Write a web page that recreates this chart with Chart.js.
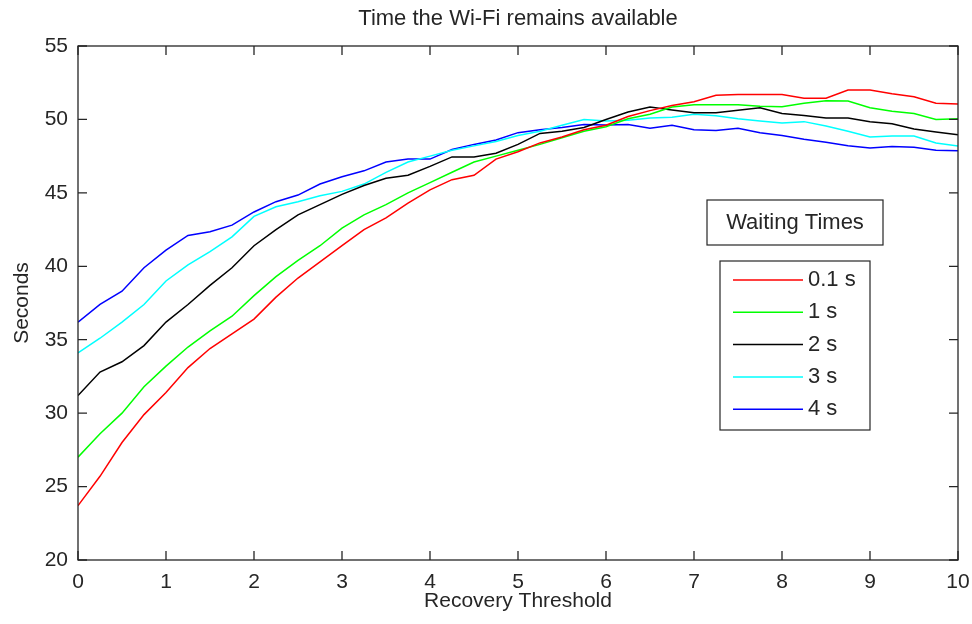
<!DOCTYPE html>
<html>
<head>
<meta charset="utf-8">
<title>Time the Wi-Fi remains available</title>
<script src="https://cdn.jsdelivr.net/npm/chart.js@4.4.1/dist/chart.umd.min.js"></script>
<style>
  html, body { margin: 0; padding: 0; background: #fff; }
  #wrap { width: 972px; height: 624px; }
</style>
</head>
<body>
<div id="wrap"><canvas id="chart"></canvas></div>
<script>
// Recovery threshold (x) and the seconds the Wi-Fi stays up, one array per waiting time
const thresholds = [0, 0.25, 0.5, 0.75, 1, 1.25, 1.5, 1.75, 2, 2.25, 2.5, 2.75, 3, 3.25, 3.5, 3.75,
                    4, 4.25, 4.5, 4.75, 5, 5.25, 5.5, 5.75, 6, 6.25, 6.5, 6.75, 7, 7.25, 7.5, 7.75,
                    8, 8.25, 8.5, 8.75, 9, 9.25, 9.5, 9.75, 10];

const wait01 = [23.7, 25.7, 28.0, 29.9, 31.4, 33.1, 34.4, 35.4, 36.4, 37.9, 39.2, 40.3, 41.4, 42.5, 43.3, 44.3,
                45.2, 45.9, 46.2, 47.3, 47.8, 48.4, 48.8, 49.3, 49.6, 50.2, 50.6, 50.95, 51.2, 51.65, 51.7, 51.7,
                51.7, 51.45, 51.45, 52.0, 52.0, 51.75, 51.55, 51.1, 51.05];
const wait1  = [27.0, 28.6, 30.0, 31.8, 33.2, 34.5, 35.6, 36.6, 38.0, 39.3, 40.4, 41.4, 42.6, 43.5, 44.2, 45.0,
                45.7, 46.4, 47.1, 47.5, 47.9, 48.3, 48.75, 49.2, 49.5, 50.05, 50.35, 50.85, 51.0, 51.0, 51.0, 50.9,
                50.87, 51.1, 51.28, 51.25, 50.8, 50.55, 50.4, 50.0, 50.05];
const wait2  = [31.2, 32.8, 33.5, 34.6, 36.2, 37.4, 38.7, 39.9, 41.4, 42.5, 43.5, 44.2, 44.9, 45.5, 46.0, 46.2,
                46.8, 47.45, 47.45, 47.7, 48.3, 49.05, 49.2, 49.45, 50.0, 50.5, 50.85, 50.65, 50.45, 50.45, 50.62, 50.8,
                50.4, 50.27, 50.1, 50.1, 49.85, 49.7, 49.35, 49.15, 48.95];
const wait3  = [34.1, 35.1, 36.2, 37.4, 39.0, 40.1, 41.0, 42.0, 43.4, 44.05, 44.4, 44.8, 45.1, 45.6, 46.4, 47.1,
                47.5, 47.9, 48.2, 48.5, 48.9, 49.2, 49.6, 50.0, 49.9, 49.95, 50.1, 50.15, 50.35, 50.25, 50.05, 49.9,
                49.75, 49.85, 49.55, 49.2, 48.8, 48.87, 48.87, 48.4, 48.19];
const wait4  = [36.2, 37.4, 38.3, 39.9, 41.1, 42.1, 42.35, 42.8, 43.7, 44.4, 44.85, 45.6, 46.1, 46.5, 47.1, 47.3,
                47.3, 47.95, 48.3, 48.6, 49.1, 49.3, 49.45, 49.65, 49.62, 49.65, 49.4, 49.6, 49.3, 49.24, 49.4, 49.1,
                48.9, 48.65, 48.45, 48.2, 48.05, 48.15, 48.1, 47.9, 47.87];

const seriesLabels = ['0.1 s', '1 s', '2 s', '3 s', '4 s'];
const seriesColors = ['#ff0000', '#00ff00', '#000000', '#00ffff', '#0000ff'];
const seriesValues = [wait01, wait1, wait2, wait3, wait4];

const xTicks = [0, 1, 2, 3, 4, 5, 6, 7, 8, 9, 10];
const yTicks = [20, 25, 30, 35, 40, 45, 50, 55];
const chartTitle = 'Time the Wi-Fi remains available';
const legendTitle = 'Waiting Times';

const FAMILY = '"Liberation Sans", Arial, sans-serif';
const FONT = { family: FAMILY, size: 21 };
const INK = '#262626';

// Title over the plot, box round it, inward ticks on all four sides, and the two legend boxes
const matlabAxes = {
  id: 'matlabAxes',
  afterDatasetsDraw(chart) {
    const { ctx, chartArea: a, scales: { x, y } } = chart;
    const tick = 9;
    ctx.save();

    ctx.fillStyle = INK;
    ctx.font = '22px ' + FAMILY;
    ctx.textAlign = 'center';
    ctx.textBaseline = 'middle';
    ctx.fillText(chartTitle, (a.left + a.right) / 2, 19);

    ctx.strokeStyle = INK;
    ctx.lineWidth = 1.3;
    ctx.strokeRect(a.left, a.top, a.right - a.left, a.bottom - a.top);

    ctx.beginPath();
    xTicks.forEach(v => {
      const px = x.getPixelForValue(v);
      ctx.moveTo(px, a.bottom); ctx.lineTo(px, a.bottom - tick);
      ctx.moveTo(px, a.top);    ctx.lineTo(px, a.top + tick);
    });
    yTicks.forEach(v => {
      const py = y.getPixelForValue(v);
      ctx.moveTo(a.left, py);  ctx.lineTo(a.left + tick, py);
      ctx.moveTo(a.right, py); ctx.lineTo(a.right - tick, py);
    });
    ctx.stroke();

    // legend heading box
    ctx.fillStyle = '#fff';
    ctx.lineWidth = 1.2;
    ctx.fillRect(707, 200, 176, 45);
    ctx.strokeRect(707, 200, 176, 45);
    ctx.fillStyle = INK;
    ctx.fillText(legendTitle, 795, 223);

    // legend entries box
    ctx.fillStyle = '#fff';
    ctx.fillRect(720, 261, 150, 169);
    ctx.strokeRect(720, 261, 150, 169);
    ctx.textAlign = 'left';
    chart.data.datasets.forEach((ds, i) => {
      const ly = 280 + i * 32.3;
      ctx.strokeStyle = ds.borderColor;
      ctx.lineWidth = 1.5;
      ctx.beginPath();
      ctx.moveTo(733, ly); ctx.lineTo(803, ly);
      ctx.stroke();
      ctx.fillStyle = INK;
      ctx.fillText(ds.label, 808, ly);
    });
    ctx.restore();
  }
};

new Chart(document.getElementById('chart'), {
  type: 'line',
  data: {
    datasets: seriesValues.map((vals, i) => ({
      label: seriesLabels[i],
      data: thresholds.map((t, j) => ({ x: t, y: vals[j] })),
      borderColor: seriesColors[i],
      backgroundColor: seriesColors[i],
      borderWidth: 1.5,
      pointRadius: 0,
      tension: 0,
      fill: false
    }))
  },
  options: {
    responsive: true,
    maintainAspectRatio: false,
    animation: false,
    layout: { padding: { top: 46, right: 14, bottom: 0, left: 0 } },
    plugins: {
      legend: { display: false },
      tooltip: { enabled: false },
      title: { display: false }
    },
    scales: {
      x: {
        type: 'linear',
        min: 0,
        max: 10,
        afterFit: s => { s.height = 64; s.paddingLeft = 0; s.paddingRight = 0; },
        afterBuildTicks: s => { s.ticks = xTicks.map(v => ({ value: v })); },
        grid: { display: false, drawTicks: false },
        border: { display: false },
        ticks: { color: INK, font: FONT, padding: 10, maxRotation: 0 },
        title: { display: true, text: 'Recovery Threshold', color: INK, font: FONT, padding: { top: 0, bottom: 10 } }
      },
      y: {
        min: 20,
        max: 55,
        afterFit: s => { s.width = 78; s.paddingTop = 0; s.paddingBottom = 0; },
        afterBuildTicks: s => { s.ticks = yTicks.map(v => ({ value: v })); },
        grid: { display: false, drawTicks: false },
        border: { display: false },
        ticks: { color: INK, font: FONT, padding: 10 },
        title: { display: true, text: 'Seconds', color: INK, font: FONT, padding: { top: 10, bottom: 0 } }
      }
    }
  },
  plugins: [matlabAxes]
});
</script>
</body>
</html>
